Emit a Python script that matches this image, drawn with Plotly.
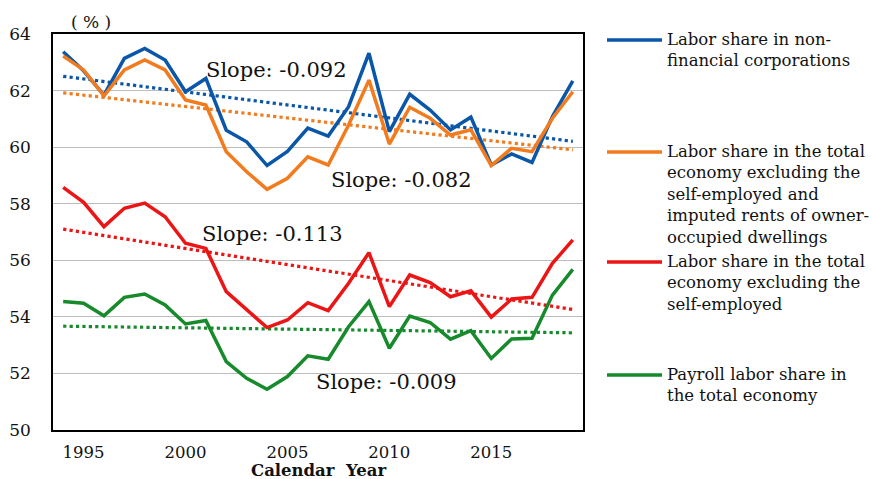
import numpy as np
import plotly.graph_objects as go

years = list(range(1994, 2020))
nonfin = [63.37, 62.70, 61.84, 63.14, 63.49, 63.08, 61.96, 62.43, 60.60, 60.19, 59.35, 59.85, 60.67,
          60.39, 61.43, 63.32, 60.55, 61.87, 61.31, 60.61, 61.06, 59.37, 59.76, 59.46, 61.08, 62.34]
excl_rent = [63.22, 62.73, 61.81, 62.73, 63.08, 62.73, 61.67, 61.49, 59.84, 59.13, 58.51, 58.90, 59.66,
             59.37, 60.78, 62.37, 60.11, 61.41, 61.02, 60.43, 60.61, 59.35, 59.96, 59.84, 61.02, 61.96]
excl_self = [58.58, 58.05, 57.19, 57.84, 58.02, 57.54, 56.60, 56.42, 54.89, 54.24, 53.62, 53.89, 54.50,
             54.22, 55.19, 56.27, 54.36, 55.48, 55.21, 54.71, 54.92, 53.99, 54.63, 54.69, 55.89, 56.72]
payroll = [54.54, 54.48, 54.04, 54.69, 54.81, 54.42, 53.75, 53.87, 52.42, 51.83, 51.44, 51.89, 52.62,
           52.50, 53.65, 54.54, 52.89, 54.03, 53.80, 53.21, 53.51, 52.53, 53.22, 53.24, 54.77, 55.68]

names = ["Labor share in non-<br>financial corporations",
         "Labor share in the total<br>economy excluding the<br>self-employed and<br>imputed rents of owner-<br>occupied dwellings",
         "Labor share in the total<br>economy excluding the<br>self-employed",
         "Payroll labor share in<br>the total economy"]
slope_labels = ["Slope: -0.092", "Slope: -0.082", "Slope: -0.113", "Slope: -0.009"]
x_ticks = [1995, 2000, 2005, 2010, 2015]
y_ticks = [50, 52, 54, 56, 58, 60, 62, 64]

series = [nonfin, excl_rent, excl_self, payroll]
colors = ["#0A56A8", "#F27B1E", "#EC1515", "#178A2C"]

FONT = "DejaVu Serif"
W, H = 872, 479
L, R, T, B = 53, 583, 34, 430

def px(x, y):
    return (x - L) / (R - L), (B - y) / (B - T)

fig = go.Figure()
yr = np.array(years, dtype=float)
for s, c, n in zip(series, colors, names):
    m, b0 = np.polyfit(yr, np.array(s), 1)
    fig.add_trace(go.Scatter(x=years, y=list(m * yr + b0), mode="lines",
                             line=dict(color=c, width=3.2, dash="dot"),
                             showlegend=False, hoverinfo="skip"))
for s, c, n in zip(series, colors, names):
    fig.add_trace(go.Scatter(x=years, y=s, mode="lines", name=n,
                             line=dict(color=c, width=3.5), showlegend=False))

annotations = []
# slope labels
for txt, (cx, cy) in zip(slope_labels, [(276, 70), (401, 180), (272, 234), (386, 382)]):
    xp, yp = px(cx, cy)
    annotations.append(dict(x=xp, y=yp, xref="paper", yref="paper", text=txt, showarrow=False,
                            font=dict(family=FONT, size=21, color="#111"), xanchor="center", yanchor="middle"))
# (%)
xp, yp = px(91, 22)
annotations.append(dict(x=xp, y=yp, xref="paper", yref="paper", text="( % )", showarrow=False,
                        font=dict(family=FONT, size=17, color="#111"), xanchor="center", yanchor="middle"))
# x title
xp, yp = px(319, 470)
annotations.append(dict(x=xp, y=yp, xref="paper", yref="paper", text="<b>Calendar  Year</b>", showarrow=False,
                        font=dict(family=FONT, size=16.5, color="#111"), xanchor="center", yanchor="middle"))

shapes = []
legend_y = [40, 152, 262, 375]
for n, c, ly in zip(names, colors, legend_y):
    x0, y0 = px(607, ly)
    x1, _ = px(662, ly)
    shapes.append(dict(type="line", xref="paper", yref="paper", x0=x0, x1=x1, y0=y0, y1=y0,
                       line=dict(color=c, width=3.5)))
    xt, yt = px(665, ly - 12)
    annotations.append(dict(x=xt, y=yt, xref="paper", yref="paper", text=n, showarrow=False,
                            align="left", xanchor="left", yanchor="top",
                            font=dict(family=FONT, size=16.5, color="#111")))

fig.update_layout(
    width=W, height=H,
    margin=dict(l=L, r=W - R, t=T, b=H - B),
    paper_bgcolor="white", plot_bgcolor="white",
    showlegend=False,
    annotations=annotations, shapes=shapes,
    font=dict(family=FONT, color="#111"),
)
fig.update_xaxes(range=[1993.5, 2019.5], tickvals=x_ticks, showgrid=False, zeroline=False,
                 showline=True, linecolor="black", linewidth=1.5, mirror=True, ticks="",
                 tickfont=dict(family=FONT, size=16.5, color="#111"), ticklabelstandoff=6,
                 automargin=False)
fig.update_yaxes(range=[50, 64], tickvals=y_ticks, showgrid=True, gridcolor="#BDBDBD", gridwidth=1.2,
                 zeroline=False, showline=True, linecolor="black", linewidth=1.5, mirror=True, ticks="",
                 tickfont=dict(family=FONT, size=17, color="#111"), ticklabelstandoff=17,
                 automargin=False)

fig.write_html("out.html", config={"displayModeBar": False},
               post_script="document.body.style.margin='0';document.body.style.padding='0';")
